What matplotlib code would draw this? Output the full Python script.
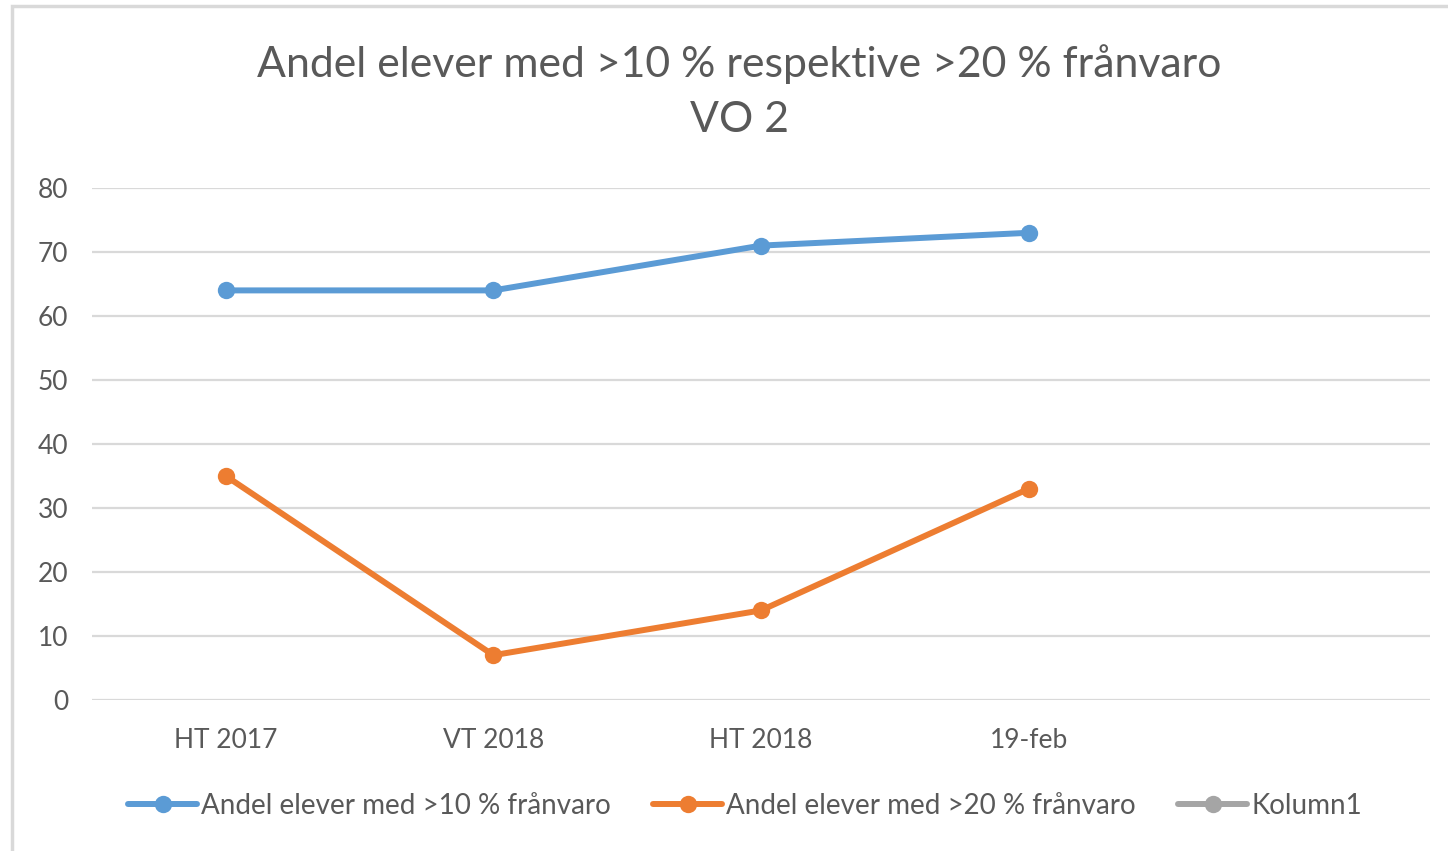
import matplotlib
matplotlib.use("Agg")
import matplotlib.pyplot as plt
from matplotlib.patches import Rectangle
import numpy as np

categories = ["HT 2017", "VT 2018", "HT 2018", "19-feb", ""]
series10 = [64, 64, 71, 73, None]
series20 = [35, 7, 14, 33, None]
kolumn1 = [None, None, None, None, None]
yticks = [0, 10, 20, 30, 40, 50, 60, 70, 80]

labels = ["Andel elever med >10 % frånvaro", "Andel elever med >20 % frånvaro", "Kolumn1"]
colors = ["#5B9BD5", "#ED7D31", "#A5A5A5"]
text_color = "#595959"
grid_color = "#D9D9D9"

plt.rcParams['font.family'] = ['Lato', 'DejaVu Sans']

W, H = 1448, 851
fig = plt.figure(figsize=(W/100, H/100), dpi=100)
ax = fig.add_axes([92/W, 1-700/H, (1430-92)/W, (700-188)/H])

x = np.arange(len(categories))
def arr(v):
    return np.array([np.nan if a is None else a for a in v], dtype=float)

for data, lab, col in zip([series10, series20, kolumn1], labels, colors):
    ax.plot(x, arr(data), color=col, lw=4.3, marker='o', markersize=12.5,
            markeredgewidth=0, label=lab, solid_capstyle='round')

ax.set_xlim(-0.5, len(categories)-0.5)
ax.set_ylim(0, 80)
ax.set_yticks(yticks)
ax.set_xticks(x)
ax.set_xticklabels(categories)
ax.tick_params(axis='both', length=0, colors=text_color, labelsize=19)
ax.tick_params(axis='y', pad=17)
ax.tick_params(axis='x', pad=20)
ax.grid(axis='y', color=grid_color, lw=1.6)
ax.set_axisbelow(True)
for s in ax.spines.values():
    s.set_visible(False)

fig.text(739/W, 1-64/H, "Andel elever med >10 % respektive >20 % frånvaro",
         ha='center', va='center', fontsize=30.8, color=text_color)
fig.text(739/W, 1-120/H, "VO 2", ha='center', va='center', fontsize=30.8, color=text_color)

leg = fig.legend(loc='center', bbox_to_anchor=(745/W, 1-806/H), ncol=3, frameon=False,
                 fontsize=20, labelcolor=text_color, handlelength=2.5, handletextpad=0.15,
                 columnspacing=1.5)

fig.patches.append(Rectangle((12/W, -0.1), 1.2, 1-6/H+0.1, transform=fig.transFigure,
                             fill=False, edgecolor=grid_color, lw=2.5))

fig.savefig("out.png", dpi=100)
